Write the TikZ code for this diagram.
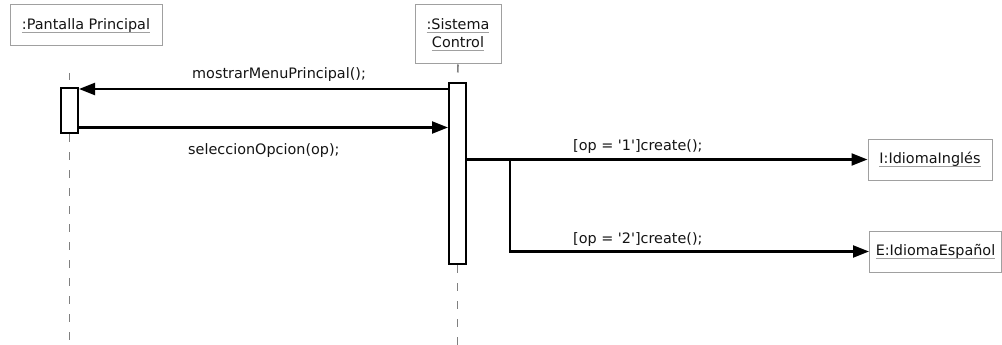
\documentclass[tikz,border=0pt]{standalone}
\usepackage{fontspec}
\setmainfont{DejaVu Sans}
\usetikzlibrary{arrows.meta}
\definecolor{boxgray}{HTML}{A0A0A0}
\definecolor{linegray}{HTML}{808080}
\definecolor{txt}{HTML}{141414}
\newsavebox{\myulbox}
\newcommand{\ulname}[1]{\sbox{\myulbox}{#1}\rlap{\textcolor{boxgray}{\rule[-3.5pt]{\wd\myulbox}{1pt}}}\usebox{\myulbox}}
\begin{document}
\begin{tikzpicture}[x=1pt,y=-1pt,
  obj/.style={draw=boxgray,line width=1pt,fill=white,inner sep=0pt,align=center,text=txt,font=\fontsize{14.4}{17}\selectfont},
  act/.style={draw=black,line width=2pt,fill=white,inner sep=0pt,minimum width=17pt},
  life/.style={draw=linegray,line width=1.6pt,dash pattern=on 8pt off 10pt},
  msg/.style={draw=black,line width=2.2pt,-{Triangle[length=16pt,width=12pt]}},
  lbl/.style={font=\fontsize{14.4}{17}\selectfont,text=txt,inner sep=0pt}]
\useasboundingbox (0,0) rectangle (1002,345);
% objects
\node[obj,minimum width=152pt,minimum height=41pt] (pp) at (86,25.5) {\ulname{:Pantalla Principal}};
\node[obj,minimum width=86pt,minimum height=59pt] (sc) at (458,34.5) {\ulname{:Sistema}\\[1pt]\ulname{Control}};
\node[obj,minimum width=124pt,minimum height=41pt] (ii) at (930,159.5) {\ulname{I:IdiomaInglés}};
\node[obj,minimum width=132pt,minimum height=41pt] (ie) at (935.5,251.5) {\ulname{E:IdiomaEspañol}};
% activations
\node[act,minimum height=45pt] (a1) at (69.5,110.5) {};
\node[act,minimum height=181pt] (a2) at (457.5,173.5) {};
\coordinate (e1) at (69.5,345);
\coordinate (e2) at (457.5,345);
% lifelines
\draw[life,dash phase=1pt] (a1.north |- 0,73) -- (a1.north);
\draw[life,dash phase=0pt] (a1.south) -- (e1);
\draw[life] (sc.south) -- (a2.north);
\draw[life] (a2.south) -- (e2);
% messages
\draw[msg] (a2.west |- 0,89) -- (a1.east |- 0,89);
\node[lbl,anchor=base west] at (192,79) {mostrarMenuPrincipal();};
\draw[msg] (a1.east |- 0,127.5) -- (a2.west |- 0,127.5);
\node[lbl,anchor=base west] at (188,154) {seleccionOpcion(op);};
\coordinate (br) at (510,160);
\draw[msg] (a2.east |- ii.west) -- (ii.west);
\node[lbl,anchor=base west] at (573,150) {[op = \textquotesingle 1\textquotesingle]create();};
\draw[msg] (br) |- (ie.west);
\node[lbl,anchor=base west] at (573,243) {[op = \textquotesingle 2\textquotesingle]create();};
\end{tikzpicture}
\end{document}
